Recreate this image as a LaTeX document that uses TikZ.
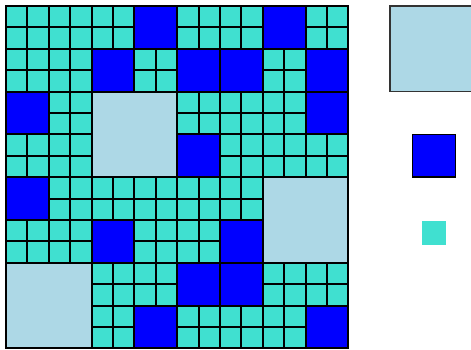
\documentclass[tikz,border=0pt]{standalone}
\usepackage{tikz}
\definecolor{cellturq}{RGB}{64, 224, 208}
\definecolor{blocklight}{RGB}{173, 216, 230}
\definecolor{blockblue}{RGB}{0, 0, 255}

\begin{document}
\begin{tikzpicture}[x=0.5cm, y=-0.5cm,
    cell/.style={draw, line width=1.3pt, fill=cellturq, minimum size=0.5cm, inner sep=0pt},
    midblock/.style={draw, line width=1.3pt, fill=blockblue, minimum size=1cm, inner sep=0pt},
    bigblock/.style={draw, line width=1.3pt, fill=blocklight, minimum size=2cm, inner sep=0pt}]
                    \useasboundingbox (-0.28,-0.28) rectangle (21.73,16.03);
                    % fine cells
                    \foreach \i in {0,...,15}
                        \foreach \j in {0,...,15}
                            \node[cell] (c-\i-\j) at (\i+0.5,\j+0.5) {};
                    % 2x2 blocks
                    \foreach \i/\j [count=\k] in {6/0,12/0,4/2,8/2,10/2,14/2,0/4,14/4,8/6,0/8,4/10,10/10,8/12,10/12,6/14,14/14}
                        \node[midblock] (m\k) at (\i+1,\j+1) {};
                    % 4x4 blocks
                    \foreach \i/\j [count=\k] in {4/4,12/8,0/12}
                        \node[bigblock] (b\k) at (\i+2,\j+2) {};
                    \draw[line width=1.3pt] (0,0) rectangle (16,16);
                    
                    % legend
                    \node[bigblock, line width=1pt, draw=black!80] (legbig) at (19.94,2) {};
                    \node[midblock, line width=1pt] (legmid) at (20,7) {};
                    \node[fill=cellturq, minimum size=0.55cm, inner sep=0pt] (legcell) at (20,10.6) {};
                \end{tikzpicture}
\end{document}
